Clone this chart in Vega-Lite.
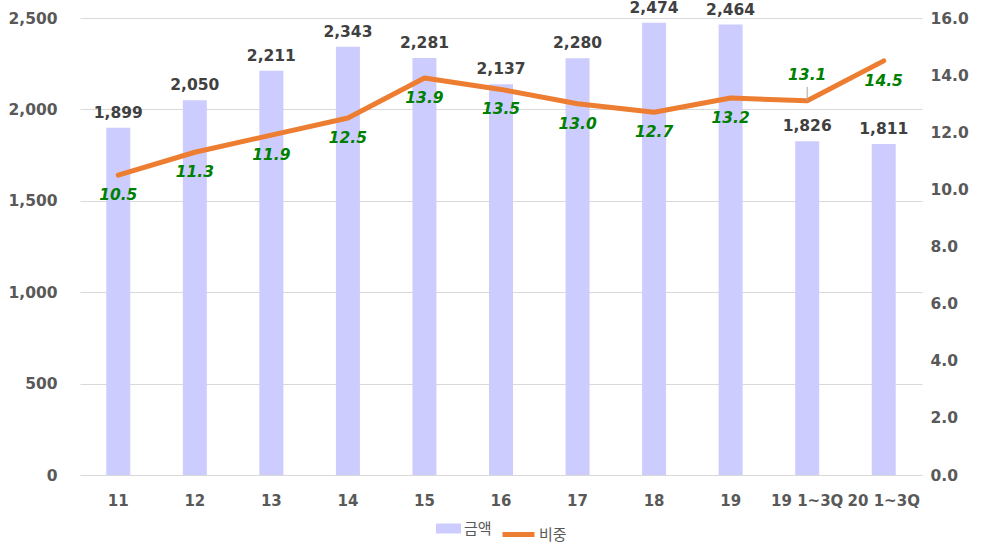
{
  "$schema": "https://vega.github.io/schema/vega-lite/v6.json",
  "width": 842,
  "height": 457,
  "autosize": {"type": "none"},
  "padding": {"left": 80, "top": 18, "right": 67, "bottom": 82},
  "background": "white",
  "data": {
    "values": [
      {"year": "11", "amount": 1899, "share": 10.5},
      {"year": "12", "amount": 2050, "share": 11.3},
      {"year": "13", "amount": 2211, "share": 11.9},
      {"year": "14", "amount": 2343, "share": 12.5},
      {"year": "15", "amount": 2281, "share": 13.9},
      {"year": "16", "amount": 2137, "share": 13.5},
      {"year": "17", "amount": 2280, "share": 13.0},
      {"year": "18", "amount": 2474, "share": 12.7},
      {"year": "19", "amount": 2464, "share": 13.2},
      {"year": "19 1~3Q", "amount": 1826, "share": 13.1},
      {"year": "20 1~3Q", "amount": 1811, "share": 14.5}
    ]
  },
  "encoding": {
    "x": {
      "field": "year",
      "type": "ordinal",
      "sort": null,
      "title": null,
      "axis": {
        "labelAngle": 0,
        "labelFont": "DejaVu Sans",
        "labelFontWeight": "bold",
        "labelFontSize": 15,
        "labelColor": "#595959",
        "labelPadding": 18,
        "domain": false,
        "ticks": false
      }
    }
  },
  "layer": [
    {
      "layer": [
        {
          "mark": {"type": "bar", "size": 24},
          "encoding": {
            "y": {
              "field": "amount",
              "type": "quantitative",
              "title": null,
              "scale": {"domain": [0, 2500], "nice": false},
              "axis": {
                "values": [0, 500, 1000, 1500, 2000, 2500],
                "format": ",d",
                "labelFont": "DejaVu Sans",
                "labelFontWeight": "bold",
                "labelFontSize": 15.5,
                "labelColor": "#595959",
                "labelPadding": 23,
                "domain": false,
                "ticks": false,
                "gridColor": "#d9d9d9"
              }
            },
            "fill": {
              "datum": "금액",
              "scale": {"range": ["#ccccff"]},
              "legend": {
                "title": null,
                "symbolType": "M-1,-0.4H1V0.4H-1Z",
                "symbolSize": 625,
                "symbolStrokeWidth": 0,
                "labelOffset": 3,
                "offset": 8,
                "orient": "bottom",
                "labelFont": "Noto Sans CJK KR",
                "labelFontSize": 15,
                "labelColor": "#595959"
              }
            }
          }
        },
        {
          "mark": {
            "type": "text",
            "baseline": "bottom",
            "dy": -7,
            "font": "DejaVu Sans",
            "fontWeight": "bold",
            "fontSize": 15.5,
            "color": "#404040"
          },
          "encoding": {
            "y": {"field": "amount", "type": "quantitative", "scale": {"domain": [0, 2500], "nice": false}},
            "text": {"field": "amount", "type": "quantitative", "format": ",d"}
          }
        }
      ]
    },
    {
      "layer": [
        {
          "mark": {"type": "line", "strokeWidth": 5, "strokeCap": "round", "strokeJoin": "round"},
          "encoding": {
            "y": {
              "field": "share",
              "type": "quantitative",
              "title": null,
              "scale": {"domain": [0, 16], "nice": false},
              "axis": {
                "orient": "right",
                "values": [0, 2, 4, 6, 8, 10, 12, 14, 16],
                "format": ".1f",
                "labelFont": "DejaVu Sans",
                "labelFontWeight": "bold",
                "labelFontSize": 15.5,
                "labelColor": "#595959",
                "labelPadding": 8,
                "domain": false,
                "ticks": false,
                "grid": false
              }
            },
            "stroke": {
              "datum": "비중",
              "scale": {"range": ["#ed7d31"]},
              "legend": {
                "title": null,
                "symbolType": "stroke",
                "symbolStrokeWidth": 5,
                "symbolSize": 1024,
                "labelOffset": 2,
                "offset": 8,
                "orient": "bottom",
                "labelFont": "Noto Sans CJK KR",
                "labelFontSize": 15,
                "labelColor": "#595959"
              }
            }
          }
        },
        {
          "transform": [{"filter": "datum.year == '19 1~3Q'"}],
          "mark": {"type": "rule", "color": "#a6a6a6", "strokeWidth": 1, "y2Offset": -14},
          "encoding": {
            "y": {"field": "share", "type": "quantitative", "scale": {"domain": [0, 16], "nice": false}},
            "y2": {"field": "share"}
          }
        },
        {
          "transform": [{"filter": "datum.year != '19 1~3Q'"}],
          "mark": {
            "type": "text",
            "baseline": "middle",
            "dy": 20,
            "font": "DejaVu Sans",
            "fontWeight": "bold",
            "fontStyle": "italic",
            "fontSize": 15.5,
            "color": "#008000"
          },
          "encoding": {
            "y": {"field": "share", "type": "quantitative", "scale": {"domain": [0, 16], "nice": false}},
            "text": {"field": "share", "type": "quantitative", "format": ".1f"}
          }
        },
        {
          "transform": [{"filter": "datum.year == '19 1~3Q'"}],
          "mark": {
            "type": "text",
            "baseline": "middle",
            "dy": -26,
            "font": "DejaVu Sans",
            "fontWeight": "bold",
            "fontStyle": "italic",
            "fontSize": 15.5,
            "color": "#008000"
          },
          "encoding": {
            "y": {"field": "share", "type": "quantitative", "scale": {"domain": [0, 16], "nice": false}},
            "text": {"field": "share", "type": "quantitative", "format": ".1f"}
          }
        }
      ]
    }
  ],
  "resolve": {"scale": {"y": "independent"}},
  "config": {
    "view": {"stroke": null},
    "legend": {"layout": {"bottom": {"direction": "horizontal", "anchor": "middle"}}}
  }
}
